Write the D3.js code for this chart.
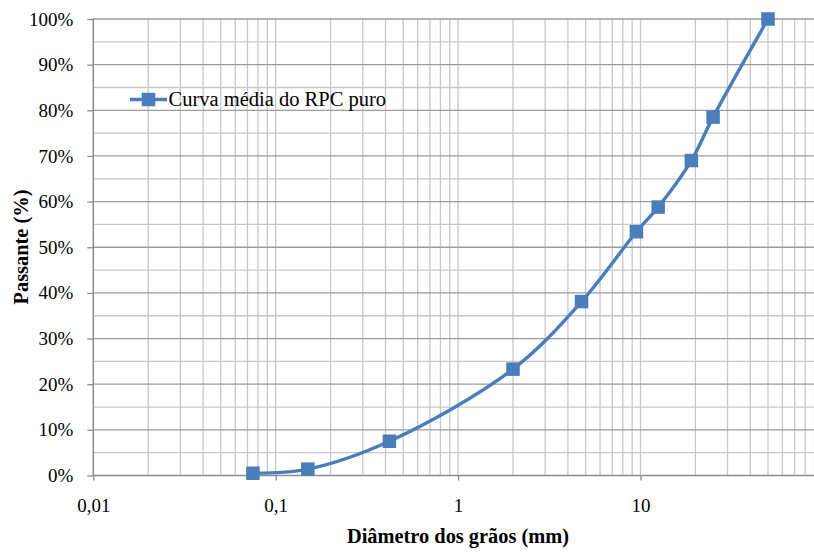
<!DOCTYPE html>
<html>
<head>
<meta charset="utf-8">
<script src="https://cdn.jsdelivr.net/npm/d3@7"></script>
<style>
  html, body { margin: 0; padding: 0; background: #fff; }
  svg { display: block; }
  svg text { font-family: "Liberation Serif", "Times New Roman", "DejaVu Serif", serif; }
</style>
</head>
<body>
<svg id="chart" width="814" height="553"></svg>
<script>
// Grain-size distribution: sieve opening (mm) vs. cumulative percent passing
const diameters = [0.075, 0.15, 0.42, 2.0, 4.75, 9.5, 12.5, 19, 25, 50];
const passing   = [0.5, 1.4, 7.5, 23.3, 38.1, 53.4, 58.8, 69.0, 78.5, 100];

const seriesName = "Curva média do RPC puro";
const xTickValues = [0.01, 0.1, 1, 10];
const xTickLabels = ["0,01", "0,1", "1", "10"];
const yTickValues = [0, 10, 20, 30, 40, 50, 60, 70, 80, 90, 100];
const xTitle = "Diâmetro dos grãos (mm)";
const yTitle = "Passante (%)";

const serif = "'Liberation Serif', 'Times New Roman', serif";
const svg = d3.select("#chart");
const W = 814, H = 553;
const plotLeft = 93.3, plotTop = 19, plotBottom = 475.5;
const decade = 182.4;

const x = d3.scaleLog().domain([0.01, 100]).range([plotLeft, plotLeft + 4 * decade]);
const y = d3.scaleLinear().domain([0, 100]).range([plotBottom, plotTop]);

const blue = "#4a7ebb";
const majorGrid = "#9c9c9c";
const minorGrid = "#c8c8c8";
const axisColor = "#8c8c8c";

const grid = svg.append("g");

// minor vertical lines (2..9 within each decade)
const minorX = [];
for (let e = -2; e < 2; e++) {
  for (let k = 2; k <= 9; k++) minorX.push(k * Math.pow(10, e));
}
grid.selectAll(".vminor").data(minorX).join("line")
  .attr("x1", d => x(d)).attr("x2", d => x(d))
  .attr("y1", plotTop).attr("y2", plotBottom)
  .attr("stroke", minorGrid).attr("stroke-width", 1.3);

// decade lines
grid.selectAll(".vmajor").data([0.1, 1, 10]).join("line")
  .attr("x1", d => x(d)).attr("x2", d => x(d))
  .attr("y1", plotTop).attr("y2", plotBottom)
  .attr("stroke", minorGrid).attr("stroke-width", 1.3);

// horizontal minor lines at 5% steps
const minorY = d3.range(5, 100, 10);
grid.selectAll(".hminor").data(minorY).join("line")
  .attr("x1", plotLeft).attr("x2", W)
  .attr("y1", d => y(d)).attr("y2", d => y(d))
  .attr("stroke", minorGrid).attr("stroke-width", 1.3);

// horizontal major lines at 10% steps
grid.selectAll(".hmajor").data(yTickValues.filter(v => v > 0)).join("line")
  .attr("x1", plotLeft).attr("x2", W)
  .attr("y1", d => y(d)).attr("y2", d => y(d))
  .attr("stroke", majorGrid).attr("stroke-width", 1.3);

// axes
const yAxis = d3.axisLeft(y).tickValues(yTickValues).tickFormat(d => d + "%").tickSize(6).tickPadding(14);
const gy = svg.append("g").attr("transform", `translate(${plotLeft},0)`).call(yAxis);
gy.attr("font-family", null);
gy.select(".domain").remove();
gy.selectAll(".tick line").attr("stroke", axisColor).attr("stroke-width", 1.3);
gy.selectAll(".tick text").attr("font-size", 19).attr("fill", "#000").style("font-family", serif);

const xAxis = d3.axisBottom(x).tickValues(xTickValues)
  .tickFormat((d, i) => xTickLabels[i]).tickSize(5).tickPadding(18);
const gx = svg.append("g").attr("transform", `translate(0,${plotBottom})`).call(xAxis);
gx.attr("font-family", null);
gx.select(".domain").remove();
gx.selectAll(".tick line").attr("stroke", axisColor).attr("stroke-width", 1.3);
gx.selectAll(".tick text").attr("font-size", 19).attr("fill", "#000").style("font-family", serif);

// axis lines
svg.append("line").attr("x1", plotLeft).attr("x2", plotLeft).attr("y1", plotTop).attr("y2", plotBottom)
  .attr("stroke", axisColor).attr("stroke-width", 1.5);
svg.append("line").attr("x1", plotLeft).attr("x2", W).attr("y1", plotBottom).attr("y2", plotBottom)
  .attr("stroke", axisColor).attr("stroke-width", 1.5);

// axis titles
svg.append("text").attr("x", 458).attr("y", 543).attr("text-anchor", "middle")
  .style("font-family", serif)
  .attr("font-size", 20.4).attr("font-weight", "bold").text(xTitle);
svg.append("text").attr("transform", "translate(27.5,247) rotate(-90)").attr("text-anchor", "middle")
  .style("font-family", serif)
  .attr("font-size", 20.4).attr("font-weight", "bold").text(yTitle);

// series
const pts = diameters.map((d, i) => [d, passing[i]]);
const line = d3.line().x(d => x(d[0])).y(d => y(d[1])).curve(d3.curveCatmullRom.alpha(0.5));
svg.append("path").datum(pts).attr("d", line)
  .attr("fill", "none").attr("stroke", blue).attr("stroke-width", 3.4);

const ms = 13.5;
svg.selectAll(".pt").data(pts).join("rect")
  .attr("x", d => x(d[0]) - ms / 2).attr("y", d => y(d[1]) - ms / 2)
  .attr("width", ms).attr("height", ms).attr("fill", blue);

// legend
const lg = svg.append("g").attr("transform", "translate(130,99.5)");
lg.append("line").attr("x1", 0).attr("x2", 37).attr("y1", 0).attr("y2", 0)
  .attr("stroke", blue).attr("stroke-width", 3.4);
lg.append("rect").attr("x", 18.5 - ms / 2).attr("y", -ms / 2).attr("width", ms).attr("height", ms).attr("fill", blue);
lg.append("text").attr("x", 38.5).attr("y", 0).attr("dy", "0.33em")
  .style("font-family", serif)
  .attr("font-size", 20.5).attr("fill", "#000").text(seriesName);
</script>
</body>
</html>
